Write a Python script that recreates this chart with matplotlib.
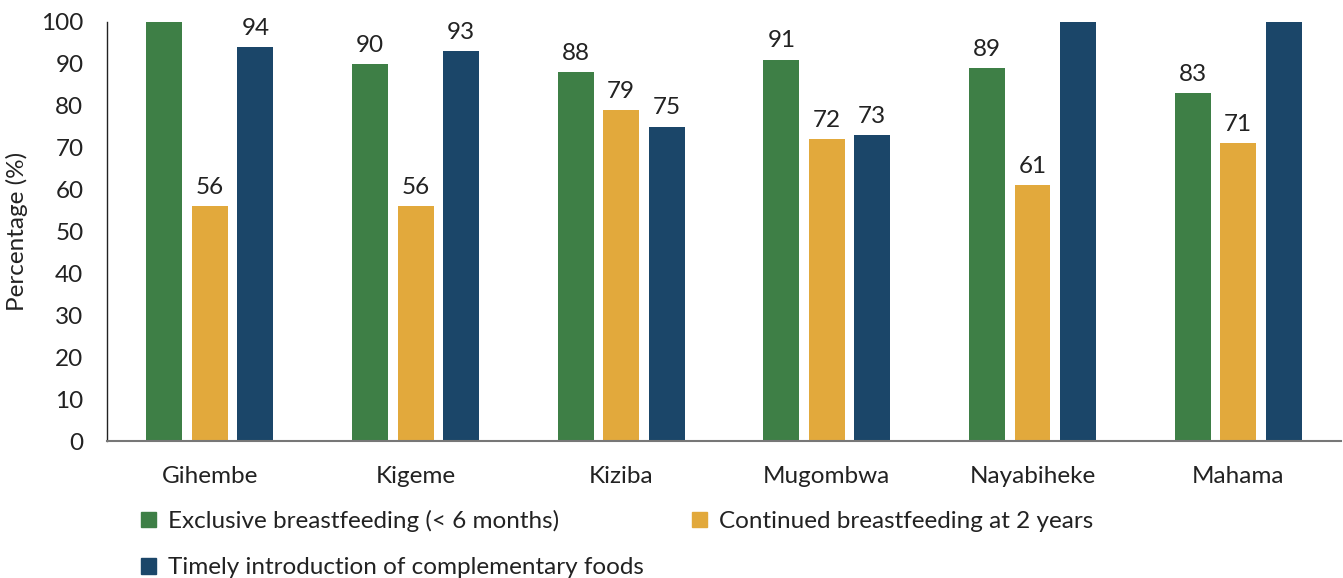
import matplotlib.pyplot as plt
import numpy as np
from matplotlib.patches import Patch

# Data
sites = ['Gihembe', 'Kigeme', 'Kiziba', 'Mugombwa', 'Nayabiheke', 'Mahama']
exclusive = [100, 90, 88, 91, 89, 83]
continued = [56, 56, 79, 72, 61, 71]
timely = [94, 93, 75, 73, 100, 100]

series_names = ['Exclusive breastfeeding (< 6 months)',
                'Continued breastfeeding at 2 years',
                'Timely introduction of complementary foods']
colors = ['#3E7F46', '#E2A93C', '#1B4669']

plt.rcParams['font.family'] = ['Lato', 'DejaVu Sans']
fs = 17.5

fig = plt.figure(figsize=(13.43, 5.78), dpi=100)
ax = fig.add_axes([0.0797, 0.237, 0.9188, 0.725])

x = np.arange(len(sites))
width = 0.175
offset = 0.221

for i, (vals, col) in enumerate(zip([exclusive, continued, timely], colors)):
    bars = ax.bar(x + (i - 1) * offset, vals, width, color=col, label=series_names[i])
    # bars at 100 reach the top of the plot, their labels are not shown
    ax.bar_label(bars, labels=[str(v) if v < 100 else '' for v in vals], padding=6,
                 fontsize=fs, color='#222222')

ax.set_xlim(-0.5, len(sites) - 0.5)
ax.set_ylim(0, 100)
ax.set_yticks(np.arange(0, 101, 10))
ax.set_xticks(x)
ax.set_xticklabels(sites)
ax.tick_params(axis='both', length=0, labelsize=fs, colors='#222222')
ax.tick_params(axis='x', pad=18)
ax.tick_params(axis='y', pad=17)

ax.spines['top'].set_visible(False)
ax.spines['right'].set_visible(False)
ax.spines['left'].set_color('#222222')
ax.spines['left'].set_linewidth(1.0)
ax.spines['bottom'].set_color('#777777')
ax.spines['bottom'].set_linewidth(1.5)

ax.set_ylabel('Percentage (%)', fontsize=fs, color='#222222')
ax.yaxis.set_label_coords(-0.064, 0.5)

# Legend: row 1 -> exclusive, continued; row 2 -> timely
handles = [Patch(color=colors[0]), Patch(color=colors[2]), Patch(color=colors[1])]
names = [series_names[0], series_names[2], series_names[1]]
fig.legend(handles, names, ncol=2, loc='upper left', bbox_to_anchor=(0.105, 0.118),
           frameon=False, fontsize=fs, handlelength=0.6, handleheight=0.6,
           handletextpad=0.5, columnspacing=2.0, labelspacing=1.05,
           labelcolor='#222222', borderaxespad=0, borderpad=0)

fig.savefig('out.png', dpi=100)
